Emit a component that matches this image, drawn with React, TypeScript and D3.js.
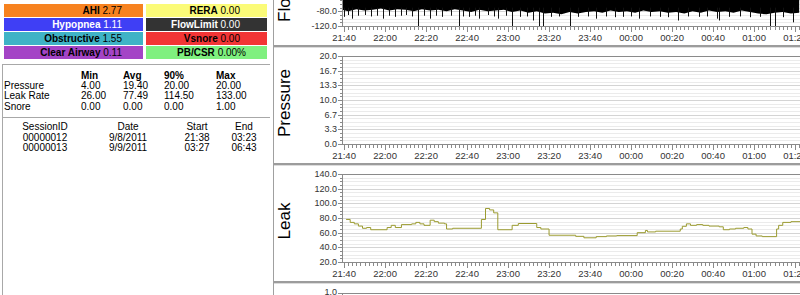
import React from "react";
import * as d3 from "d3";

// ---------- data ----------
const statLabelsLeft = ["AHI", "Hypopnea", "Obstructive", "Clear Airway"];
const statValuesLeft = ["2.77", "1.11", "1.55", "0.11"];
const statColorsLeft = ["#f7821f", "#3f3ff5", "#3fb3c6", "#a444c6"];
const statTextLeft = ["#000", "#fff", "#000", "#000"];
const statLabelsRight = ["RERA", "FlowLimit", "Vsnore", "PB/CSR"];
const statValuesRight = ["0.00", "0.00", "0.00", "0.00%"];
const statColorsRight = ["#fbfb78", "#333333", "#f23535", "#7ff07f"];
const statTextRight = ["#000", "#fff", "#000", "#000"];

const summaryHeaders = ["Min", "Avg", "90%", "Max"];
const summaryRows = ["Pressure", "Leak Rate", "Snore"];
const summaryMin = [4.0, 26.0, 0.0];
const summaryAvg = [19.4, 77.49, 0.0];
const summary90 = [20.0, 114.5, 0.0];
const summaryMax = [20.0, 133.0, 1.0];

const sessionHeaders = ["SessionID", "Date", "Start", "End"];
const sessionIds = ["00000012", "00000013"];
const sessionDates = ["9/8/2011", "9/9/2011"];
const sessionStarts = ["21:38", "03:27"];
const sessionEnds = ["03:23", "06:43"];

const timeStart = "21:39";
const timeEnd = "06:43";

const flowTicks = [-120, -80, -40, 0, 40, 80, 120];
const pressureTicks = [0, 20 / 6, 40 / 6, 10, 80 / 6, 100 / 6, 20];
const leakTicks = [20, 40, 60, 80, 100, 120, 140];

const pressureTimes = ["21:39", "06:43"];
const pressureValues = [20, 20];

const leakTimes = [
  "21:41", "21:43", "21:45", "21:47", "21:49", "21:51", "21:53", "22:01", "22:03", "22:05",
  "22:08", "22:13", "22:15", "22:17", "22:19", "22:22", "22:24", "22:26", "22:29", "22:30",
  "22:33", "22:47", "22:49", "22:51", "22:53", "22:55", "23:02", "23:05", "23:14", "23:16",
  "23:20", "23:33", "23:37", "23:43", "23:48", "23:53", "00:03", "00:07", "00:08", "00:12",
  "00:24", "00:25", "00:27", "00:29", "00:32", "00:35", "00:38", "00:43", "00:45", "00:48",
  "00:51", "00:55", "00:57", "00:59", "01:01", "01:04", "01:11", "01:12", "01:14", "01:18",
  "01:30",
];
const leakValues = [
  78, 74, 72, 69, 66, 67, 64, 67, 70, 67,
  71, 72, 74, 72, 70, 77, 75, 73, 72, 65,
  66, 78, 93, 91, 87, 64, 70, 72.5, 67, 65,
  56.5, 55, 53, 54.6, 55.5, 56, 60, 63, 61, 62,
  65, 68.7, 72, 70, 71, 70, 69, 68, 64, 65,
  66, 67, 65, 58, 55.5, 54.6, 65, 70, 74, 75,
  75,
];

// lower edge of the dense flow waveform
const flowEdgeTimes = [
  "21:39", "21:42", "21:46", "21:50", "21:54", "21:58", "22:02", "22:06", "22:10", "22:14",
  "22:18", "22:22", "22:26", "22:30", "22:34", "22:38", "22:42", "22:46", "22:50", "22:54",
  "22:58", "23:02", "23:06", "23:10", "23:14", "23:18", "23:22", "23:26", "23:30", "23:34",
  "23:38", "23:42", "23:46", "23:50", "23:54", "23:58", "00:02", "00:06", "00:10", "00:14",
  "00:18", "00:22", "00:26", "00:30", "00:34", "00:38", "00:42", "00:46", "00:50", "00:54",
  "00:58", "01:02", "01:06", "01:10", "01:14", "01:18", "01:22",
];
const flowEdgeValues = [
  -76, -80, -74, -78, -76, -72, -78, -74, -76, -80,
  -74, -78, -76, -80, -74, -78, -82, -76, -80, -78,
  -76, -82, -78, -84, -80, -86, -84, -88, -82, -86,
  -82, -80, -84, -78, -82, -80, -84, -78, -82, -80,
  -84, -82, -86, -80, -84, -78, -82, -80, -84, -78,
  -82, -86, -88, -84, -82, -86, -84,
];
// single-breath dips below the dense band
const flowSpikeTimes = [
  "21:40", "21:42", "21:44", "21:47", "21:50", "21:53", "21:56", "21:59", "22:02", "22:05",
  "22:08", "22:10", "22:13", "22:16", "22:19", "22:22", "22:25", "22:28", "22:32", "22:36",
  "22:38", "22:41", "22:44", "22:46", "22:50", "22:53", "22:55", "22:59", "23:02", "23:06",
  "23:09", "23:12", "23:15", "23:17", "23:21", "23:25", "23:30", "23:34", "23:39", "23:43",
  "23:48", "23:52", "23:56", "00:00", "00:04", "00:09", "00:14", "00:18", "00:23", "00:28",
  "00:33", "00:37", "00:42", "00:43", "00:48", "00:53", "00:58", "01:03", "01:08", "01:10",
  "01:14", "01:19",
];
const flowSpikeValues = [
  -95, -90, -100, -92, -90, -94, -92, -100, -92, -95,
  -92, -90, -94, -120, -92, -100, -92, -95, -92, -120,
  -94, -95, -92, -100, -90, -94, -100, -92, -120, -95,
  -94, -105, -120, -120, -95, -94, -120, -95, -94, -100,
  -94, -96, -95, -94, -100, -94, -95, -96, -105, -94,
  -95, -94, -100, -105, -95, -94, -96, -95, -120, -120,
  -96, -110,
];

// ---------- helpers ----------
function toDate(hm: string): Date {
  const [h, m] = hm.split(":").map(Number);
  const day = h < 12 ? 9 : 8;
  return new Date(2011, 8, day, h, m, 0);
}

const FONT = "'Liberation Sans', Arial, sans-serif";
const W = 800;
const H = 295;
const plotLeft = 342;
const pxPerMin = 2.05;

const t0 = toDate(timeStart);
const t1 = toDate(timeEnd);
const x = d3
  .scaleTime()
  .domain([t0, t1])
  .range([plotLeft, plotLeft + ((+t1 - +t0) / 60000) * pxPerMin]);

const majorTimes = x.ticks(d3.timeMinute.every(20) as any).filter((d) => x(d) <= W + 20);
const minorTimes = x.ticks(d3.timeMinute.every(2) as any).filter((d) => x(d) <= W + 5);
const fmt = d3.timeFormat("%H:%M");

type PanelProps = {
  id: string;
  top: number;
  label: string;
  ticks: number[];
  sub: number;
  children?: (y: d3.ScaleLinear<number, number>) => React.ReactNode;
  labelCenter?: number;
};

function Panel({ id, top, label, ticks, sub, children, labelCenter }: PanelProps) {
  const pTop = top + 9;
  const pBot = top + 97;
  const y = d3.scaleLinear().domain([ticks[0], ticks[ticks.length - 1]]).range([pBot, pTop]);
  const nMinor = (ticks.length - 1) * sub;
  const minorY = d3.range(nMinor + 1).map((i) => pBot - (i * (pBot - pTop)) / nMinor);
  const lc = labelCenter ?? (pTop + pBot) / 2 + 3;
  return (
    <g>
      <defs>
        <clipPath id={`clip-${id}`}>
          <rect x={plotLeft} y={pTop} width={W - plotLeft} height={pBot - pTop} />
        </clipPath>
      </defs>
      {minorY.map((yy, i) => (
        <line
          key={i}
          x1={plotLeft}
          x2={W}
          y1={Math.round(yy) + 0.5}
          y2={Math.round(yy) + 0.5}
          stroke={i % sub === 0 ? "#d4d4d4" : "#ebebeb"}
        />
      ))}
      <g clipPath={`url(#clip-${id})`}>{children && children(y)}</g>
      {/* frame */}
      <line x1={plotLeft} x2={W} y1={pTop + 0.5} y2={pTop + 0.5} stroke="#8a8a8a" />
      <line x1={plotLeft} x2={W} y1={pBot + 0.5} y2={pBot + 0.5} stroke="#8a8a8a" />
      <line x1={plotLeft + 0.5} x2={plotLeft + 0.5} y1={pTop} y2={pBot + 1} stroke="#8a8a8a" />
      {/* y ticks */}
      {minorY.map((yy, i) => (
        <line
          key={"yt" + i}
          x1={i % sub === 0 ? plotLeft - 4 : plotLeft - 2}
          x2={plotLeft}
          y1={Math.round(yy) + 0.5}
          y2={Math.round(yy) + 0.5}
          stroke="#8a8a8a"
        />
      ))}
      {ticks
        .filter((t) => y(t) > 5)
        .map((t, i) => (
          <text
            key={"yl" + i}
            x={plotLeft - 5}
            y={y(t)}
            dy="0.35em"
            textAnchor="end"
            fontFamily={FONT}
            fontSize={9}
            fill="#333"
          >
            {t.toFixed(1)}
          </text>
        ))}
      {/* x ticks */}
      {minorTimes.map((d, i) => (
        <line
          key={"xt" + i}
          x1={Math.round(x(d)) + 0.5}
          x2={Math.round(x(d)) + 0.5}
          y1={pBot + 1}
          y2={pBot + 4}
          stroke="#8a8a8a"
        />
      ))}
      {majorTimes.map((d, i) => (
        <g key={"xl" + i}>
          <line
            x1={Math.round(x(d)) + 0.5}
            x2={Math.round(x(d)) + 0.5}
            y1={pBot + 1}
            y2={pBot + 6}
            stroke="#8a8a8a"
          />
          <text
            x={x(d)}
            y={pBot + 15}
            textAnchor="middle"
            fontFamily={FONT}
            fontSize={9.5}
            fill="#333"
          >
            {fmt(d)}
          </text>
        </g>
      ))}
      <text
        transform={`translate(290,${lc}) rotate(-90)`}
        textAnchor="middle"
        fontFamily={FONT}
        fontSize={17}
        fill="#000"
      >
        {label}
      </text>
      {/* separator */}
      <rect x={274} y={top + 116} width={W - 274} height={2} fill="#9c9c9c" />
      <rect x={274} y={top + 118} width={W - 274} height={1} fill="#dcdcdc" />
    </g>
  );
}

export default function App() {
  const rowH = 14;
  const leftText = (i: number) => (
    <text
      key={"sl" + i}
      x={122}
      y={4 + i * rowH + 10}
      textAnchor="end"
      fontFamily={FONT}
      fontSize={10}
      fill={statTextLeft[i]}
    >
      <tspan fontWeight="bold">{statLabelsLeft[i]}</tspan> {statValuesLeft[i]}
    </text>
  );
  const rightText = (i: number) => (
    <text
      key={"sr" + i}
      x={statValuesRight[i].endsWith("%") ? 246 : 240}
      y={4 + i * rowH + 10}
      textAnchor="end"
      fontFamily={FONT}
      fontSize={10}
      fill={statTextRight[i]}
    >
      <tspan fontWeight="bold">{statLabelsRight[i]}</tspan> {statValuesRight[i]}
    </text>
  );

  const summaryCols = [81, 123, 164, 216];
  const summaryData = [summaryMin, summaryAvg, summary90, summaryMax];
  const sessionCols = [45, 128, 197, 244];
  const sessionData = [sessionIds, sessionDates, sessionStarts, sessionEnds];

  const leakLine = (y: d3.ScaleLinear<number, number>) =>
    d3
      .line<number>()
      .x((_, i) => x(toDate(leakTimes[i])))
      .y((v) => y(v))
      .curve(d3.curveStepAfter)(leakValues) || "";

  return (
    <svg
      width={W}
      height={H}
      style={{ position: "absolute", left: 0, top: 0, background: "#fff" }}
    >
      <rect width={W} height={H} fill="#fff" />
      {/* ---- left info panel ---- */}
      {statLabelsLeft.map((_, i) => (
        <rect key={"bl" + i} x={4} y={4 + i * rowH} width={139} height={13} fill={statColorsLeft[i]} />
      ))}
      {statLabelsRight.map((_, i) => (
        <rect key={"br" + i} x={146} y={4 + i * rowH} width={121} height={13} fill={statColorsRight[i]} />
      ))}
      {statLabelsLeft.map((_, i) => leftText(i))}
      {statLabelsRight.map((_, i) => rightText(i))}

      <line x1={2} x2={270} y1={64.5} y2={64.5} stroke="#a8a8a8" />
      <line x1={2} x2={270} y1={117.5} y2={117.5} stroke="#a8a8a8" />
      <line x1={2.5} x2={2.5} y1={64} y2={H} stroke="#a8a8a8" />

      {summaryHeaders.map((h, i) => (
        <text key={"sh" + i} x={summaryCols[i]} y={79} fontFamily={FONT} fontSize={10} fontWeight="bold">
          {h}
        </text>
      ))}
      {summaryRows.map((r, j) => (
        <g key={"sr" + j}>
          <text x={4} y={89 + j * 10.3} fontFamily={FONT} fontSize={10}>
            {r}
          </text>
          {summaryData.map((col, i) => (
            <text key={i} x={summaryCols[i]} y={89 + j * 10.3} fontFamily={FONT} fontSize={10}>
              {col[j].toFixed(2)}
            </text>
          ))}
        </g>
      ))}
      {sessionHeaders.map((h, i) => (
        <text key={"ssh" + i} x={sessionCols[i]} y={130} textAnchor="middle" fontFamily={FONT} fontSize={10}>
          {h}
        </text>
      ))}
      {sessionIds.map((_, j) => (
        <g key={"ss" + j}>
          {sessionData.map((col, i) => (
            <text
              key={i}
              x={sessionCols[i]}
              y={140.5 + j * 10.5}
              textAnchor="middle"
              fontFamily={FONT}
              fontSize={10}
            >
              {col[j]}
            </text>
          ))}
        </g>
      ))}

      {/* ---- graph area ---- */}
      <line x1={273.5} x2={273.5} y1={0} y2={H} stroke="#a0a0a0" />

      <Panel id="flow" top={-71} label="Flow" ticks={flowTicks} sub={4} labelCenter={4}>
        {(y) => (
          <g>
            <path
              d={
                d3
                  .area<number>()
                  .x((_, i) => x(toDate(flowEdgeTimes[i])))
                  .y0(y(120))
                  .y1((v) => y(v))(flowEdgeValues) || ""
              }
              fill="#000"
            />
            {flowSpikeValues.map((v, i) => {
              const xx = Math.round(x(toDate(flowSpikeTimes[i]))) + 0.5;
              return <line key={i} x1={xx} x2={xx} y1={y(-70)} y2={y(v)} stroke="#111" strokeWidth={1} />;
            })}
          </g>
        )}
      </Panel>

      <Panel id="pressure" top={47} label="Pressure" ticks={pressureTicks} sub={4}>
        {(y) => (
          <path
            d={
              d3
                .line<number>()
                .x((_, i) => x(toDate(pressureTimes[i])))
                .y((v) => y(v))(pressureValues) || ""
            }
            fill="none"
            stroke="#3b6b4b"
            strokeWidth={2}
          />
        )}
      </Panel>

      <Panel id="leak" top={165} label="Leak" ticks={leakTicks} sub={4}>
        {(y) => <path d={leakLine(y)} fill="none" stroke="#9b9b30" strokeWidth={1} />}
      </Panel>

      {/* next (snore) panel, only its top is visible */}
      <text x={plotLeft - 5} y={292} dy="0.35em" textAnchor="end" fontFamily={FONT} fontSize={9} fill="#333">
        1.0
      </text>
      <line x1={plotLeft} x2={W} y1={293.5} y2={293.5} stroke="#8a8a8a" />
      <line x1={plotLeft - 4} x2={plotLeft} y1={293.5} y2={293.5} stroke="#8a8a8a" />
      <line x1={plotLeft + 0.5} x2={plotLeft + 0.5} y1={293} y2={H} stroke="#8a8a8a" />
    </svg>
  );
}
